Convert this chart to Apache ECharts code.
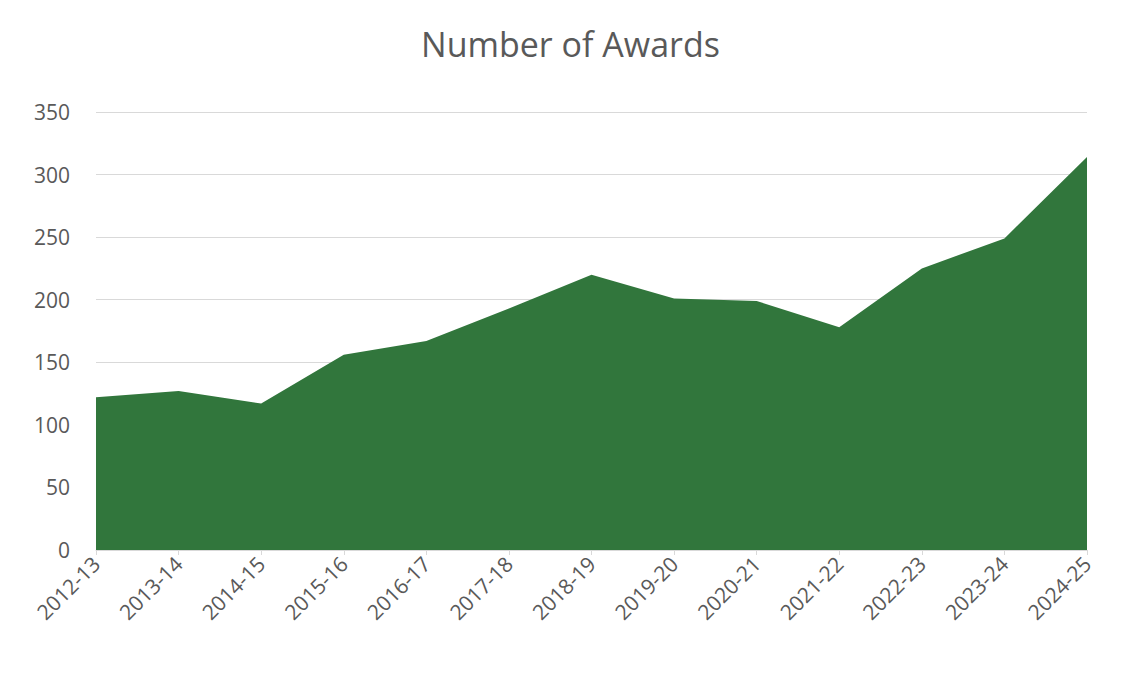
<!DOCTYPE html>
<html>
<head>
<meta charset="utf-8">
<script src="https://cdn.jsdelivr.net/npm/echarts@6/dist/echarts.min.js"></script>
<style>html,body{margin:0;padding:0;background:#fff}#chart{width:1141px;height:678px}</style>
</head>
<body>
<div id="chart"></div>
<script>
var years = ["2012-13","2013-14","2014-15","2015-16","2016-17","2017-18","2018-19","2019-20","2020-21","2021-22","2022-23","2023-24","2024-25"];
var awards = [122, 127, 117, 156, 167, 193, 220, 201, 199, 178, 225, 249, 314];

var chart = echarts.init(document.getElementById("chart"), null, {renderer: "svg"});
chart.setOption({
  animation: false,
  title: {
    text: "Number of Awards",
    left: "center",
    top: 22,
    textStyle: {fontFamily: "Open Sans", fontSize: 34, fontWeight: "normal", color: "#595959"}
  },
  grid: {left: 96, right: 54, top: 112, bottom: 128},
  xAxis: {
    type: "category",
    data: years,
    boundaryGap: false,
    axisLine: {lineStyle: {color: "#d9d9d9"}},
    axisTick: {show: true, alignWithLabel: true, lineStyle: {color: "#d9d9d9"}},
    axisLabel: {rotate: 45, interval: 0, fontFamily: "Open Sans", fontSize: 21, color: "#595959", margin: 10}
  },
  yAxis: {
    type: "value",
    min: 0, max: 350, interval: 50,
    axisLine: {show: false},
    axisTick: {show: false},
    splitLine: {lineStyle: {color: "#d9d9d9"}},
    axisLabel: {fontFamily: "Open Sans", fontSize: 21, color: "#595959", margin: 26}
  },
  series: [{
    type: "line",
    data: awards,
    symbol: "none",
    lineStyle: {width: 0},
    areaStyle: {color: "#31763c", opacity: 1}
  }]
});
</script>
</body>
</html>
